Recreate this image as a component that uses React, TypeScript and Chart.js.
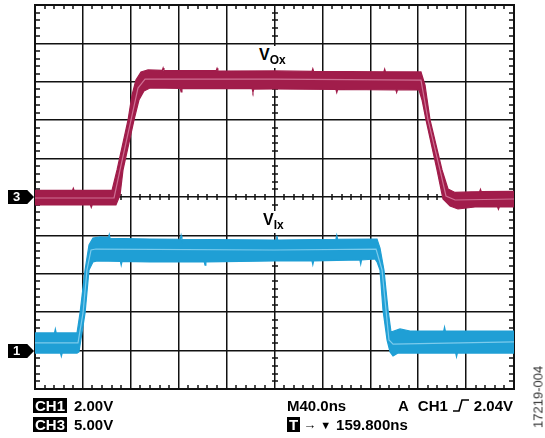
import React, { useEffect, useRef } from "react";
import { Chart, registerables } from "chart.js";

Chart.register(...registerables);

// Scope settings
const TIME_PER_DIV_NS = 40;
const X_DIVS = 10;
const Y_DIVS = 10;
const CH1_VOLTS_PER_DIV = 2;
const CH3_VOLTS_PER_DIV = 5;
const CH1_GROUND_DIV = -4;
const CH3_GROUND_DIV = 0;

// CH3 (VOx) persistence band: upper envelope, lower envelope, centre trace (time ns, volts)
const ch3UpperT = [0, 31.3, 32, 32.7, 64.3, 68.5, 77.7, 81.0, 84.3, 88.5, 94.4, 106.3, 107, 107.7, 151.3, 152, 152.7, 199.6, 231.3, 232, 232.7, 291.3, 292, 292.7, 322.3, 325.7, 329.9, 339.9, 344.9, 350.8, 371.3, 372, 372.7, 400];
const ch3UpperV = [0.85, 0.85, 1.15, 0.85, 0.85, 3.52, 10.03, 13.28, 15.23, 16.28, 16.54, 16.5, 16.8, 16.45, 16.45, 16.75, 16.4, 16.41, 16.35, 16.7, 16.35, 16.3, 16.65, 16.3, 16.28, 14.58, 10.03, 3.52, 1.04, 0.59, 0.7, 1.0, 0.7, 0.72];
const ch3LowerT = [0, 46.3, 47, 47.7, 67.6, 71.0, 73.5, 82.7, 86.8, 91.0, 96.0, 121.3, 122, 122.7, 181.3, 182, 182.7, 199.6, 251.3, 252, 252.7, 301.3, 302, 302.7, 320.7, 323.2, 326.5, 335.7, 340.7, 346.6, 353.2, 367.4, 386.3, 387, 387.7, 400];
const ch3LowerV = [-1.04, -1.04, -1.35, -1.04, -1.04, 0.26, 3.52, 10.03, 12.63, 13.8, 14.19, 14.15, 13.7, 14.1, 14.1, 13.65, 14.05, 14.06, 14.0, 13.6, 14.0, 13.95, 13.6, 13.95, 13.93, 12.63, 10.03, 3.52, -0.26, -1.17, -1.56, -1.3, -1.3, -1.6, -1.3, -1.3];
const ch3MidT = [0, 66.0, 71.0, 80.2, 86.0, 91.9, 199.6, 322.3, 328.2, 338.2, 343.2, 350.8, 400];
const ch3MidV = [-0.13, -0.13, 3.52, 10.03, 14.19, 15.36, 15.36, 15.23, 10.03, 3.52, 0.13, -0.39, -0.26];

// CH1 (VIx) persistence band
const ch1UpperT = [0, 16.3, 17, 17.7, 35.1, 37.6, 41.8, 45.1, 48.4, 54.3, 61.3, 62, 62.7, 96.0, 121.3, 122, 122.7, 199.6, 201.3, 202, 202.7, 251.3, 252, 252.7, 285.6, 288.1, 291.4, 294.8, 297.3, 304.8, 313.2, 341.3, 342, 342.7, 400];
const ch1UpperV = [0.92, 0.92, 1.12, 0.92, 0.92, 1.96, 4.2, 5.5, 5.86, 5.92, 5.9, 6.05, 5.85, 5.81, 5.8, 6.0, 5.8, 5.76, 5.76, 5.98, 5.76, 5.8, 6.0, 5.8, 5.81, 5.34, 4.2, 2.12, 0.97, 1.13, 1.02, 1.02, 1.22, 1.02, 1.02];
const ch1LowerT = [0, 21.3, 22, 22.7, 35.1, 36.7, 39.2, 41.8, 45.1, 48.4, 51.8, 71.3, 72, 72.7, 96.0, 141.3, 142, 142.7, 199.6, 231.3, 232, 232.7, 271.3, 272, 272.7, 283.9, 285.6, 288.1, 290.6, 294.0, 296.5, 299.0, 303.1, 351.3, 352, 352.7, 400];
const ch1LowerV = [-0.13, -0.13, -0.3, -0.13, -0.13, -0.07, 0.92, 1.96, 4.2, 4.62, 4.67, 4.65, 4.45, 4.65, 4.62, 4.62, 4.45, 4.62, 4.67, 4.67, 4.47, 4.67, 4.72, 4.5, 4.72, 4.77, 4.62, 4.2, 2.12, 0.55, -0.07, -0.28, -0.13, -0.13, -0.32, -0.13, -0.13];
const ch1MidT = [0, 35.9, 40.1, 43.4, 46.8, 50.9, 199.6, 284.8, 289.8, 293.1, 295.6, 299.0, 400];
const ch1MidV = [0.4, 0.4, 1.96, 4.2, 5.24, 5.29, 5.24, 5.29, 4.2, 2.12, 0.55, 0.34, 0.45];

const RED = "#a11d4b";
const RED_LIGHT = "#cf7094";
const BLUE = "#1f9fd5";
const BLUE_LIGHT = "#7ccbec";

const toPoints = (t: number[], v: number[], vpd: number, groundDiv: number) =>
  t.map((tt, i) => ({ x: tt, y: v[i] / vpd + groundDiv }));

const minorTickPlugin = {
  id: "minorTicks",
  beforeDatasetsDraw(chart: any) {
    const { ctx, chartArea } = chart;
    const { left, right, top, bottom } = chartArea;
    const xs = chart.scales.x;
    const ys = chart.scales.y;
    const cx = Math.round(xs.getPixelForValue((X_DIVS * TIME_PER_DIV_NS) / 2));
    const cy = Math.round(ys.getPixelForValue(0));
    ctx.save();
    ctx.strokeStyle = "#111";
    ctx.lineWidth = 1.5;
    ctx.beginPath();
    for (let k = 1; k < X_DIVS * 5; k++) {
      if (k % 5 === 0) continue;
      const px = Math.round(xs.getPixelForValue((k * TIME_PER_DIV_NS) / 5));
      ctx.moveTo(px, top);
      ctx.lineTo(px, top + 4);
      ctx.moveTo(px, bottom);
      ctx.lineTo(px, bottom - 4);
      ctx.moveTo(px, cy - 3);
      ctx.lineTo(px, cy + 3);
    }
    for (let k = 1; k < Y_DIVS * 5; k++) {
      if (k % 5 === 0) continue;
      const py = Math.round(ys.getPixelForValue(-Y_DIVS / 2 + k / 5));
      ctx.moveTo(left, py);
      ctx.lineTo(left + 5, py);
      ctx.moveTo(right, py);
      ctx.lineTo(right - 5, py);
      ctx.moveTo(cx - 3, py);
      ctx.lineTo(cx + 3, py);
    }
    ctx.stroke();
    ctx.lineWidth = 2;
    ctx.strokeRect(Math.round(left), Math.round(top), Math.round(right - left), Math.round(bottom - top));
    ctx.restore();
  },
};

const font = "'Liberation Sans', Arial, Helvetica, sans-serif";

const boxStyle: React.CSSProperties = {
  background: "#000",
  color: "#fff",
  padding: "0 2px",
  display: "inline-block",
  lineHeight: "15px",
  height: 15,
};

function Marker({ label, top }: { label: string; top: number }) {
  return (
    <div
      style={{
        position: "absolute",
        left: 8,
        top,
        width: 26,
        height: 14,
        background: "#000",
        clipPath: "polygon(0 0, 74% 0, 100% 50%, 74% 100%, 0 100%)",
        color: "#fff",
        fontFamily: font,
        fontWeight: "bold",
        fontSize: 13,
        lineHeight: "14px",
        paddingLeft: 5,
        boxSizing: "border-box",
      }}
    >
      {label}
    </div>
  );
}

export default function App() {
  const canvasRef = useRef<HTMLCanvasElement | null>(null);

  useEffect(() => {
    if (!canvasRef.current) return;
    const chart = new Chart(canvasRef.current, {
      type: "line",
      data: {
        datasets: [
          {
            data: toPoints(ch3UpperT, ch3UpperV, CH3_VOLTS_PER_DIV, CH3_GROUND_DIV),
            borderColor: RED,
            borderWidth: 1.2,
            fill: false,
            order: 2,
          },
          {
            data: toPoints(ch3LowerT, ch3LowerV, CH3_VOLTS_PER_DIV, CH3_GROUND_DIV),
            borderColor: RED,
            borderWidth: 1.2,
            backgroundColor: RED,
            fill: "-1",
            order: 2,
          },
          {
            data: toPoints(ch3MidT, ch3MidV, CH3_VOLTS_PER_DIV, CH3_GROUND_DIV),
            borderColor: RED_LIGHT,
            borderWidth: 1.2,
            fill: false,
            order: 1,
          },
          {
            data: toPoints(ch1UpperT, ch1UpperV, CH1_VOLTS_PER_DIV, CH1_GROUND_DIV),
            borderColor: BLUE,
            borderWidth: 1.2,
            fill: false,
            order: 2,
          },
          {
            data: toPoints(ch1LowerT, ch1LowerV, CH1_VOLTS_PER_DIV, CH1_GROUND_DIV),
            borderColor: BLUE,
            borderWidth: 1.2,
            backgroundColor: BLUE,
            fill: "-1",
            order: 2,
          },
          {
            data: toPoints(ch1MidT, ch1MidV, CH1_VOLTS_PER_DIV, CH1_GROUND_DIV),
            borderColor: BLUE_LIGHT,
            borderWidth: 1.2,
            fill: false,
            order: 1,
          },
        ],
      },
      options: {
        responsive: false,
        animation: false,
        devicePixelRatio: 1,
        layout: { padding: { left: 35, top: 5, right: 31, bottom: 49 } },
        elements: { point: { radius: 0 }, line: { tension: 0 } },
        plugins: { legend: { display: false }, tooltip: { enabled: false } },
        scales: {
          x: {
            type: "linear",
            min: 0,
            max: X_DIVS * TIME_PER_DIV_NS,
            ticks: { display: false, stepSize: TIME_PER_DIV_NS },
            grid: { color: "#111", lineWidth: 1.5, drawTicks: false },
            border: { display: false },
          },
          y: {
            type: "linear",
            min: -Y_DIVS / 2,
            max: Y_DIVS / 2,
            ticks: { display: false, stepSize: 1 },
            grid: { color: "#111", lineWidth: 1.5, drawTicks: false },
            border: { display: false },
          },
        },
      },
      plugins: [minorTickPlugin],
    } as any);
    return () => chart.destroy();
  }, []);

  const txt: React.CSSProperties = {
    position: "absolute",
    fontFamily: font,
    fontWeight: "bold",
    fontSize: 15,
    lineHeight: "15px",
    color: "#000",
    whiteSpace: "nowrap",
  };

  const traceLabel: React.CSSProperties = {
    ...txt,
    fontSize: 16,
    lineHeight: "16px",
    background: "#fff",
    padding: "1px 2px 4px 2px",
  };

  return (
    <div style={{ position: "fixed", left: 0, top: 0, width: 545, height: 438, background: "#fff" }}>
      <canvas ref={canvasRef} width={545} height={438} style={{ position: "absolute", left: 0, top: 0 }} />
      <Marker label="3" top={190} />
      <Marker label="1" top={344} />
      <div style={{ ...traceLabel, left: 257, top: 46 }}>
        V<span style={{ fontSize: 12, position: "relative", top: 4 }}>Ox</span>
      </div>
      <div style={{ ...traceLabel, left: 261, top: 211 }}>
        V<span style={{ fontSize: 12, position: "relative", top: 4 }}>Ix</span>
      </div>
      <div style={{ ...txt, left: 33, top: 398 }}>
        <span style={boxStyle}>CH1</span>
        <span style={{ marginLeft: 7 }}>2.00V</span>
      </div>
      <div style={{ ...txt, left: 33, top: 417 }}>
        <span style={boxStyle}>CH3</span>
        <span style={{ marginLeft: 7 }}>5.00V</span>
      </div>
      <div style={{ ...txt, left: 287, top: 398 }}>M40.0ns</div>
      <div style={{ ...txt, left: 398, top: 398 }}>
        A<span style={{ marginLeft: 9 }}>CH1</span>
        <svg width="18" height="13" style={{ marginLeft: 4, marginRight: 4, verticalAlign: "-1px" }}>
          <path d="M1 12 H7 L10 1 H17" stroke="#000" strokeWidth="1.6" fill="none" />
        </svg>
        2.04V
      </div>
      <div style={{ ...txt, left: 287, top: 417 }}>
        <span style={{ ...boxStyle, padding: "0 2px" }}>T</span>
        <span style={{ fontSize: 13, marginLeft: 3, verticalAlign: "1px" }}>→</span>
        <span style={{ fontSize: 11, marginLeft: 4, verticalAlign: "1px" }}>▼</span>
        <span style={{ marginLeft: 5 }}>159.800ns</span>
      </div>
      <div
        style={{
          position: "absolute",
          left: 538,
          top: 397,
          transform: "translate(-50%, -50%) rotate(-90deg)",
          fontFamily: font,
          fontSize: 13,
          color: "#333",
          whiteSpace: "nowrap",
        }}
      >
        17219-004
      </div>
    </div>
  );
}
